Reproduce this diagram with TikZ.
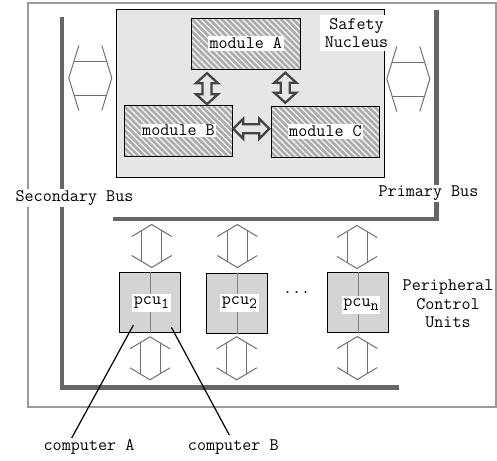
\documentclass[tikz,border=0pt]{standalone}
\usepackage{fontspec}
\usetikzlibrary{patterns.meta,calc}
\definecolor{busgray}{HTML}{666666}
\definecolor{framegray}{HTML}{9A9A9A}
\definecolor{arrgray}{HTML}{707070}
\definecolor{darrgray}{HTML}{444444}
\definecolor{nucgray}{HTML}{E6E6E6}
\definecolor{pcugray}{HTML}{D4D4D4}
\definecolor{hatchbg}{HTML}{ABABAB}
\definecolor{hatchfg}{HTML}{F2F2F2}
\newcommand\lblfont{\ttfamily\fontsize{17.6}{18.3}\selectfont}
\tikzset{
  lbl/.style={fill=white, inner sep=1.5pt, font=\lblfont, text=black},
  bus/.style={line width=4.5pt, draw=busgray},
  thinarr/.style={draw=arrgray, line width=1pt},
  thickarr/.style={draw=darrgray, line width=2.3pt, line join=miter},
  modbox/.style={draw=black, line width=0.9pt, preaction={fill=hatchbg},
    preaction={pattern={Lines[angle=-45,distance=4.2pt,line width=1.4pt]}, pattern color=hatchfg},
    inner sep=0pt, minimum width=108.3pt, minimum height=51pt},
  pcubox/.style={draw=black, line width=1pt, fill=pcugray, minimum width=60.7pt, minimum height=60pt, inner sep=0pt},
  divider/.style={draw=gray, line width=1pt},
  callout/.style={draw=black, line width=1.2pt},
}
\newcommand\thinV[2]{%
  \draw[thinarr] ({#1-20},{#2-21.5+12}) -- ({#1},{#2-21.5}) -- ({#1+20},{#2-21.5+12});
  \draw[thinarr] ({#1-20},{#2+21.5-12}) -- ({#1},{#2+21.5}) -- ({#1+20},{#2+21.5-12});
  \draw[thinarr] ({#1-10},{#2-21.5+6}) -- ({#1-10},{#2+21.5-6});
  \draw[thinarr] ({#1+10},{#2-21.5+6}) -- ({#1+10},{#2+21.5-6});
}
\newcommand\thinH[2]{%
  \draw[thinarr] ({#1-21.5+10},{#2-32.5}) -- ({#1-21.5},{#2}) -- ({#1-21.5+10},{#2+32.5});
  \draw[thinarr] ({#1+21.5-10},{#2-32.5}) -- ({#1+21.5},{#2}) -- ({#1+21.5-10},{#2+32.5});
  \draw[thinarr] ({#1-21.5+5.2},{#2-17}) -- ({#1+21.5-5.2},{#2-17});
  \draw[thinarr] ({#1-21.5+5.2},{#2+17}) -- ({#1+21.5-5.2},{#2+17});
}
% thick double arrows: cx, cy, half length
\newcommand\thickV[3]{%
  \draw[thickarr] ({#1},{#2-#3}) -- ({#1+11},{#2-#3+10}) -- ({#1+4.5},{#2-#3+10}) -- ({#1+4.5},{#2+#3-10})
    -- ({#1+11},{#2+#3-10}) -- ({#1},{#2+#3}) -- ({#1-11},{#2+#3-10}) -- ({#1-4.5},{#2+#3-10})
    -- ({#1-4.5},{#2-#3+10}) -- ({#1-11},{#2-#3+10}) -- cycle;
}
\newcommand\thickH[3]{%
  \draw[thickarr] ({#1-#3},{#2}) -- ({#1-#3+10},{#2-10}) -- ({#1-#3+10},{#2-4.5}) -- ({#1+#3-10},{#2-4.5})
    -- ({#1+#3-10},{#2-10}) -- ({#1+#3},{#2}) -- ({#1+#3-10},{#2+10}) -- ({#1+#3-10},{#2+4.5})
    -- ({#1-#3+10},{#2+4.5}) -- ({#1-#3+10},{#2+10}) -- cycle;
}
\newcommand\subs[1]{\raisebox{-0.45ex}{\fontsize{15.5}{15.5}\selectfont #1}}
\begin{document}
\begin{tikzpicture}[x=1pt,y=-1pt]
\useasboundingbox (0,0) rectangle (497,460);
% outer frame
\draw[framegray, line width=1.2pt] (28,3) rectangle (496,407);
% buses
\draw[bus] (62,16.7) -- (62,387.5) -- (399.3,387.5);
\draw[bus] (436.7,10) -- (436.7,219) -- (113,219);
% safety nucleus
\node[draw=black, line width=0.9pt, fill=nucgray, minimum width=268pt, minimum height=168pt, inner sep=0pt] (nuc) at (250,93) {};
\node[modbox] (modA) at (245.8,43.5) {};
\node[modbox] (modB) at (178.5,130.5) {};
\node[modbox] (modC) at (325.5,131.5) {};
\node[lbl] (modAl) at (modA) {module A};
\node[lbl] (modBl) at (modB) {module B};
\node[lbl] (modCl) at (modC) {module C};
\thickV{207}{88.7}{15.5}
\thickV{285.3}{87.7}{15}
\thickH{251.3}{128.8}{18}
\node[lbl, align=center, inner xsep=5pt, inner ysep=3pt] (nucl) at (356.5,33) {Safety\\Nucleus};
% bus connections of nucleus
\thinH{90.3}{78}
\thinH{408.3}{79}
% pcus
\node[pcubox] (pcu1) at (150.3,302.7) {};
\node[pcubox] (pcu2) at (237,303) {};
\node[pcubox] (pcun) at (358.3,302.7) {};
\draw[divider] (pcu1.north) -- (pcu1.south);
\draw[divider] (pcu2.north) -- (pcu2.south);
\draw[divider] (pcun.north) -- (pcun.south);
\node[lbl, inner ysep=3pt] (pcu1l) at (151.5,303) {pcu\subs{1}};
\node[lbl, inner ysep=3pt] (pcu2l) at (239.5,303) {pcu\subs{2}};
\node[lbl, inner ysep=3pt] (pcunl) at (361,305) {pcu\subs{n}};
\node[font=\lblfont] (dots) at (296.7,293) {...};
\thinV{151.7}{246}
\thinV{150}{358.3}
\thinV{237.3}{246}
\thinV{236.7}{358.3}
\thinV{357}{247}
\thinV{357.3}{358}
% labels
\node[lbl] (secbus) at (74.5,198) {Secondary Bus};
\node[lbl] (primbus) at (428.5,193.5) {Primary Bus};
\node[lbl, align=center, inner xsep=2pt, inner ysep=2pt] (pcuunits) at (448,304) {Peripheral\\Control\\Units};
\node[lbl] (compA) at (89,447) {computer A};
\node[lbl] (compB) at (233.3,447) {computer B};
\coordinate (ea) at (71.7,438);
\coordinate (eb) at (229.3,435);
\draw[callout] ($(pcu1.south)+(-17,-8)$) -- (ea);
\draw[callout] ($(pcu1.south)+(21,-6)$) -- (eb);
\end{tikzpicture}
\end{document}
